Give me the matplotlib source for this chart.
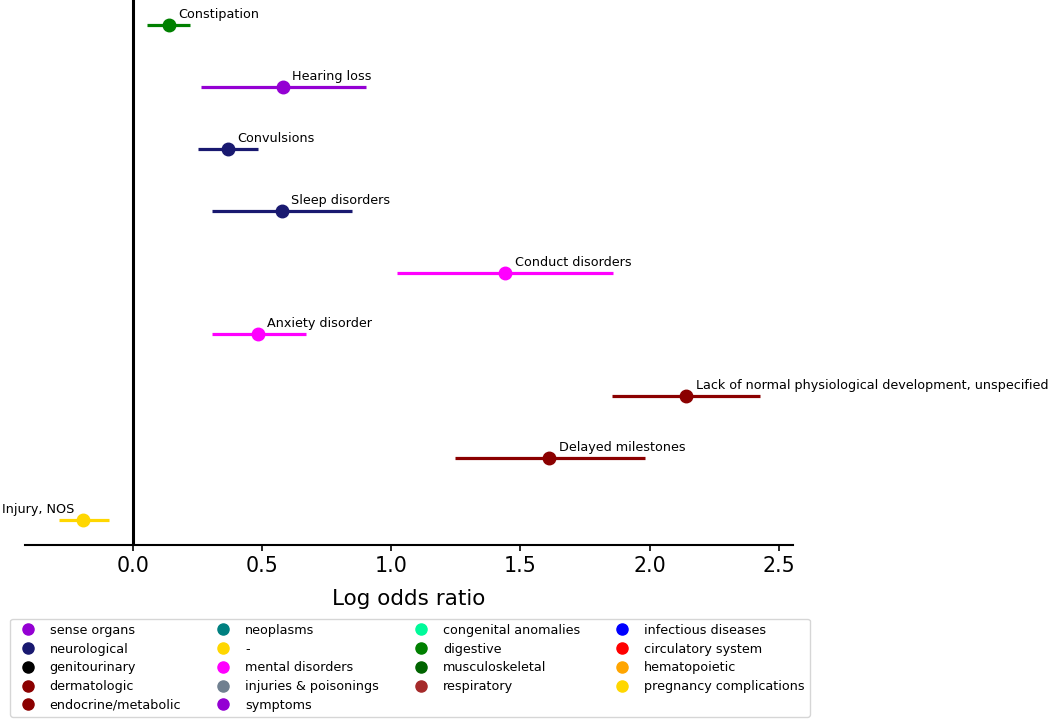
import matplotlib
matplotlib.use("Agg")
import matplotlib.pyplot as plt
from matplotlib.lines import Line2D

# Data (top to bottom)
labels = ["Constipation", "Hearing loss", "Convulsions", "Sleep disorders",
          "Conduct disorders", "Anxiety disorder",
          "Lack of normal physiological development, unspecified",
          "Delayed milestones", "Injury, NOS"]
estimates = [0.139, 0.580, 0.368, 0.577, 1.440, 0.484, 2.140, 1.610, -0.190]
ci_low = [0.054, 0.263, 0.252, 0.306, 1.022, 0.306, 1.854, 1.246, -0.283]
ci_high = [0.224, 0.902, 0.484, 0.848, 1.858, 0.670, 2.426, 1.981, -0.093]
categories = ["digestive", "sense organs", "neurological", "neurological",
              "mental disorders", "mental disorders", "endocrine/metabolic",
              "endocrine/metabolic", "pregnancy complications"]

legend_names = ["sense organs", "neurological", "genitourinary", "dermatologic",
                "endocrine/metabolic", "neoplasms", "-", "mental disorders",
                "injuries & poisonings", "symptoms", "congenital anomalies",
                "digestive", "musculoskeletal", "respiratory",
                "infectious diseases", "circulatory system", "hematopoietic",
                "pregnancy complications"]
legend_colors = ["darkviolet", "midnightblue", "black", "darkred", "darkred",
                 "teal", "gold", "magenta", "slategray", "darkviolet",
                 "mediumspringgreen", "green", "darkgreen", "brown",
                 "blue", "red", "orange", "gold"]
cmap = dict(zip(legend_names, legend_colors))

fig = plt.figure(figsize=(10.5, 7.21), dpi=100)
ax = fig.add_axes([25/1050, 1 - 545/721, (793 - 25)/1050, 545/721])

n = len(labels)
for i, (lab, est, lo, hi, cat) in enumerate(zip(labels, estimates, ci_low, ci_high, categories)):
    y = n - 1 - i
    c = cmap[cat]
    ax.plot([lo, hi], [y, y], color=c, lw=2.3, solid_capstyle='butt', zorder=2)
    ax.plot([est], [y], 'o', color=c, ms=9, zorder=3)
    if est < 0:
        ax.annotate(lab, (est, y), xytext=(-6.5, 5), textcoords='offset points',
                    ha='right', va='baseline', fontsize=9.2)
    else:
        ax.annotate(lab, (est, y), xytext=(7, 5), textcoords='offset points',
                    ha='left', va='baseline', fontsize=9.2)

ax.axvline(0, color='black', lw=2.2, zorder=1)
ax.set_xlim(-0.416, 2.554)
ax.set_ylim(-0.4, n - 1 + 0.4)
ax.set_yticks([])
for s in ['top', 'right', 'left']:
    ax.spines[s].set_visible(False)
ax.spines['bottom'].set_linewidth(1.5)
ax.set_xticks([0.0, 0.5, 1.0, 1.5, 2.0, 2.5])
ax.tick_params(axis='x', labelsize=14.8, width=1.2, length=4.5)
ax.set_xlabel("Log odds ratio", fontsize=15.5, labelpad=9)

handles = [Line2D([], [], marker='o', ls='', color=c, ms=8) for c in legend_colors]
fig.legend(handles, legend_names, ncol=4, loc='lower left',
           bbox_to_anchor=(10/1050, 4/721), borderaxespad=0, fontsize=9.2,
           frameon=True, handletextpad=0.7, columnspacing=2.3,
           labelspacing=0.45, borderpad=0.4, edgecolor='#cccccc', fancybox=True)

fig.savefig("out.png", dpi=100)
